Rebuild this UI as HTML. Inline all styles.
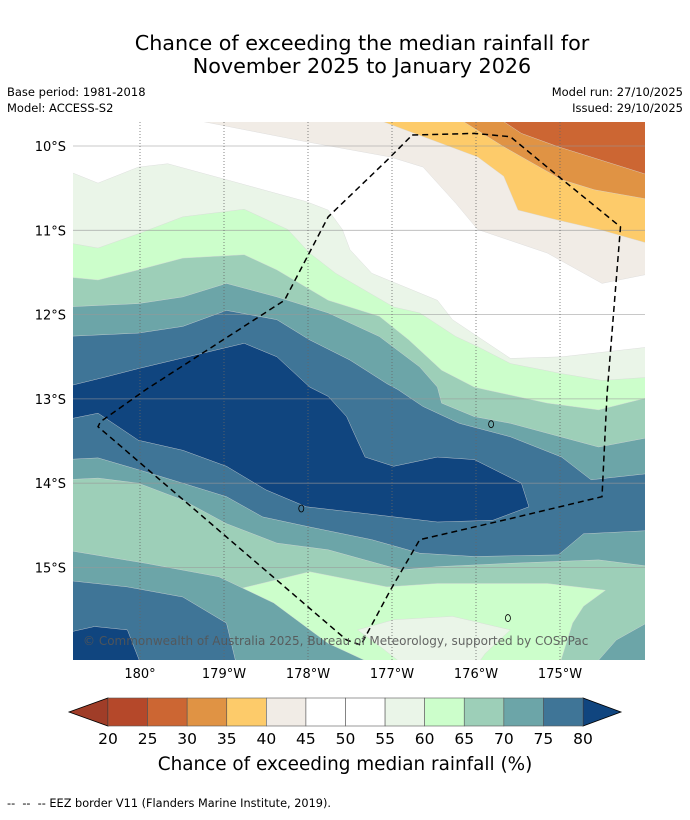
<!DOCTYPE html>
<html><head><meta charset="utf-8">
<style>
html,body{margin:0;padding:0;background:#fff;}
body{width:690px;height:816px;overflow:hidden;font-family:"DejaVu Sans","Liberation Sans",sans-serif;}
svg text{font-family:"DejaVu Sans","Liberation Sans",sans-serif;}
</style></head>
<body>
<svg id="chart" width="690" height="816" viewBox="0 0 690 816" xmlns="http://www.w3.org/2000/svg">
<defs><clipPath id="mapclip"><rect x="73" y="122" width="572" height="538"/></clipPath></defs>
<text x="362" y="50" font-size="20.7" text-anchor="middle" fill="#000">Chance of exceeding the median rainfall for</text>
<text x="362" y="73" font-size="20.7" text-anchor="middle" fill="#000">November 2025 to January 2026</text>
<text x="7" y="96" font-size="11.5">Base period: 1981-2018</text>
<text x="7" y="112" font-size="11.5">Model: ACCESS-S2</text>
<text x="683" y="96" font-size="11.5" text-anchor="end">Model run: 27/10/2025</text>
<text x="683" y="112" font-size="11.5" text-anchor="end">Issued: 29/10/2025</text>
<g id="map" clip-path="url(#mapclip)"></g>
<g id="axes"></g>
<g id="cbar"></g>
<text x="345" y="770" font-size="18.4" text-anchor="middle">Chance of exceeding median rainfall (%)</text>
<text x="7" y="807" font-size="11.3" xml:space="preserve">--  --  -- EEZ border V11 (Flanders Marine Institute, 2019).</text>
</svg>
<script>
// Axis ticks (lon in degrees east, lat in degrees south)
const lonTicks=[180,181,182,183,184,185];
const lonTickLabels=["180°","179°W","178°W","177°W","176°W","175°W"];
const latTicks=[10,11,12,13,14,15];
const latTickLabels=["10°S","11°S","12°S","13°S","14°S","15°S"];
// Colorbar bins
const cbLevels=[20,25,30,35,40,45,50,55,60,65,70,75,80];
const cbColors=["#b5482a","#cc6633","#e09344","#fdcb6a","#f1ece6","#ffffff","#ffffff","#eaf5e8","#ccfecb","#9dcfb8","#6ca5a8","#3f7597"];
const cbUnder="#a03d28", cbOver="#10457f";
// Contour regions (lon E, lat S), painted in order
const regionBeige=[[180.75,9.5],[180.75,9.71],[181.98,9.95],[182.98,10.13],[183.37,10.25],[183.76,10.68],[184.02,10.99],[184.85,11.27],[185.5,11.63],[186.1,11.51],[186.1,9.5]];
const regionYellow=[[182.89,9.5],[182.89,9.71],[184.02,10.13],[184.33,10.36],[184.5,10.76],[184.98,10.88],[185.5,11.0],[186.1,11.17],[186.1,9.5]];
const regionOrange=[[183.85,9.5],[183.85,9.71],[184.33,10.01],[185.02,10.4],[185.41,10.52],[186.1,10.64],[186.1,9.5]];
const regionRed=[[184.33,9.5],[184.33,9.71],[184.54,9.85],[184.98,10.01],[185.37,10.13],[186.1,10.36],[186.1,9.5]];
const upper55=[[179.1,10.28],[179.5,10.44],[179.98,10.25],[180.33,10.21],[181.03,10.4],[181.98,10.66],[182.24,10.76],[182.41,10.99],[182.5,11.23],[182.76,11.51],[183.54,11.83],[183.72,12.06],[184.41,12.52],[185.02,12.5],[186.1,12.38]];
const upper60=[[179.1,11.14],[179.5,11.21],[179.98,11.04],[180.51,10.84],[181.24,10.75],[181.76,10.99],[182.02,11.27],[182.33,11.51],[183.02,11.91],[183.33,11.98],[183.76,12.26],[184.02,12.38],[184.41,12.58],[185.02,12.7],[185.5,12.78],[186.1,12.74]];
const upper65=[[179.1,11.55],[179.5,11.59],[179.98,11.47],[180.51,11.33],[181.24,11.29],[181.63,11.47],[182.24,11.83],[182.85,12.02],[183.2,12.3],[183.59,12.66],[183.98,12.86],[184.11,12.89],[184.85,13.05],[185.46,13.13],[186.1,12.97]];
const upper70=[[179.1,11.91],[179.98,11.87],[180.51,11.79],[181.03,11.63],[181.63,11.79],[182.24,11.98],[182.85,12.26],[183.33,12.62],[183.54,12.86],[183.59,13.05],[183.98,13.21],[184.41,13.29],[185.46,13.57],[186.1,13.45]];
const upper75=[[179.1,12.26],[179.98,12.22],[180.51,12.14],[181.03,11.95],[181.63,12.06],[182.02,12.3],[182.5,12.54],[182.94,12.82],[183.07,12.89],[183.37,13.09],[183.8,13.29],[184.41,13.45],[185.02,13.69],[185.37,13.96],[186.1,13.88]];
const blob80=[[179.1,12.86],[179.59,12.74],[179.98,12.64],[181.24,12.34],[181.63,12.5],[182.02,12.86],[182.24,12.97],[182.46,13.21],[182.55,13.41],[182.68,13.69],[183.02,13.8],[183.54,13.69],[183.98,13.72],[184.54,14.0],[184.63,14.28],[184.2,14.44],[183.54,14.46],[182.68,14.36],[181.98,14.28],[181.5,14.08],[181.03,13.8],[180.51,13.61],[179.98,13.49],[179.5,13.17],[179.1,13.25]];
const lower75=[[179.1,13.72],[179.5,13.7],[179.98,13.84],[180.51,14.0],[181.03,14.16],[181.46,14.4],[182.02,14.52],[182.76,14.67],[183.33,14.83],[183.98,14.87],[184.98,14.85],[185.28,14.6],[186.1,14.56]];
const lower70=[[179.1,13.96],[179.5,13.94],[179.98,14.0],[180.51,14.2],[181.03,14.48],[181.63,14.71],[182.24,14.79],[183.11,15.03],[183.54,14.99],[184.41,14.95],[185.46,14.91],[186.1,14.99]];
const blob60=[[181.11,15.27],[182.02,15.05],[182.94,15.23],[183.54,15.19],[184.85,15.19],[185.54,15.27],[185.28,15.46],[185.15,15.66],[184.98,16.2],[183.02,16.2],[182.24,15.98],[181.72,15.66]];
const blob55=[[182.59,15.74],[183.02,15.62],[183.72,15.58],[184.41,15.74],[184.11,16.02],[183.98,16.2],[183.2,16.2],[182.81,15.9]];
const swBlob70=[[179.1,14.79],[180.07,14.95],[180.94,15.11],[181.59,15.42],[182.24,15.9],[182.89,16.2],[179.1,16.2]];
const swBlob75=[[179.1,15.15],[179.85,15.23],[180.51,15.35],[181.03,15.66],[181.16,16.2],[179.1,16.2]];
const swBlob80=[[179.1,15.78],[179.46,15.7],[179.85,15.74],[180.03,16.2],[179.1,16.2]];
const seBlob70=[[186.1,15.62],[185.67,15.86],[185.37,16.2],[186.1,16.2]];
const eezBorder=[[183.24,9.87],[183.98,9.85],[184.41,9.89],[184.98,10.36],[185.72,10.96],[185.56,12.95],[185.5,14.16],[184.41,14.42],[183.33,14.67],[182.98,15.27],[182.63,15.92],[182.46,15.86],[179.5,13.33],[179.53,13.27],[180.07,12.89],[181.72,11.83],[182.24,10.84],[182.94,10.17],[183.24,9.87]];
const islands=[[184.18,13.3],[181.92,14.3],[184.38,15.6]];

const NS="http://www.w3.org/2000/svg";
const X=lon=>140+(lon-180)*84;
const Y=lat=>146+(lat-10)*84.3;
const map=document.getElementById('map'), axes=document.getElementById('axes'), cbar=document.getElementById('cbar');
function mk(tag,attrs,parent){const e=document.createElementNS(NS,tag);for(const k in attrs)e.setAttribute(k,attrs[k]);parent.appendChild(e);return e;}
function pts(arr){return arr.map(p=>X(p[0]).toFixed(1)+','+Y(p[1]).toFixed(1)).join(' ');}
function toBottom(arr){return arr.concat([[186.1,16.3],[179.1,16.3]]);}

let bg=mk('rect',{x:73,y:122,width:572,height:538,fill:'#ffffff'},map);


const layers=[
 ['contour-40-45',regionBeige,cbColors[4]],
 ['contour-35-40',regionYellow,cbColors[3]],
 ['contour-30-35',regionOrange,cbColors[2]],
 ['contour-25-30',regionRed,cbColors[1]],
 ['contour-55-60',toBottom(upper55),cbColors[7]],
 ['contour-60-65',toBottom(upper60),cbColors[8]],
 ['contour-65-70',toBottom(upper65),cbColors[9]],
 ['contour-70-75',toBottom(upper70),cbColors[10]],
 ['contour-75-80',toBottom(upper75),cbColors[11]],
 ['contour-above-80',blob80,cbOver],
 ['contour-70-75-south',toBottom(lower75),cbColors[10]],
 ['contour-65-70-south',toBottom(lower70),cbColors[9]],
 ['contour-60-65-south',blob60,cbColors[8]],
 ['contour-55-60-south',blob55,cbColors[7]],
 ['contour-70-75-sw',swBlob70,cbColors[10]],
 ['contour-75-80-sw',swBlob75,cbColors[11]],
 ['contour-above-80-sw',swBlob80,cbOver],
 ['contour-70-75-se',seBlob70,cbColors[10]]
];
for(const L of layers){
 const p=mk('polygon',{points:pts(L[1]),fill:L[2],stroke:'#d8d8d8','stroke-width':0.4},map);
 
 
}
for(const isl of islands){
 const e=mk('ellipse',{cx:X(isl[0]),cy:Y(isl[1]),rx:2.5,ry:3.5,fill:'none',stroke:'#000','stroke-width':0.8},map);
 
 
}
// grid
latTicks.forEach((t,i)=>{
 const l=mk('line',{x1:73,x2:645,y1:Y(t),y2:Y(t),stroke:'#999','stroke-width':0.8,'stroke-opacity':0.7},map);
 
 
 const tx=mk('text',{x:66,y:Y(t)+5,'font-size':13,'text-anchor':'end'},axes);
 tx.textContent=latTickLabels[i];
 
 
});
lonTicks.forEach((t,i)=>{
 const l=mk('line',{x1:X(t),x2:X(t),y1:122,y2:660,stroke:'#666','stroke-width':0.8,'stroke-dasharray':'1,2'},map);
 
 
 const tx=mk('text',{x:X(t),y:678,'font-size':13,'text-anchor':'middle'},axes);
 tx.textContent=lonTickLabels[i];
 
 
});
const eez=mk('polyline',{points:pts(eezBorder),fill:'none',stroke:'#000','stroke-width':1.5,'stroke-dasharray':'6,4'},map);


const cr=mk('text',{x:83,y:645,'font-size':12,fill:'#555','fill-opacity':0.9},map);
cr.textContent='© Commonwealth of Australia 2025, Bureau of Meteorology, supported by COSPPac';


// colorbar
const cx0=108,cx1=583,cy0=698,cy1=726,bw=(cx1-cx0)/cbColors.length;
const lt=mk('polygon',{points:`${cx0},${cy0} ${cx0},${cy1} 69,${(cy0+cy1)/2}`,fill:cbUnder,stroke:'#000','stroke-width':0.8},cbar);


const rt=mk('polygon',{points:`${cx1},${cy0} ${cx1},${cy1} 621,${(cy0+cy1)/2}`,fill:cbOver,stroke:'#000','stroke-width':0.8},cbar);


cbColors.forEach((c,i)=>{
 const r=mk('rect',{x:cx0+i*bw,y:cy0,width:bw,height:cy1-cy0,fill:c,stroke:'#555','stroke-width':0.6},cbar);
 
 
});
cbLevels.forEach((v,i)=>{
 const t=mk('text',{x:cx0+i*bw,y:744,'font-size':15.5,'text-anchor':'middle'},cbar);
 t.textContent=v;
 
 
});
</script>
</body></html>
